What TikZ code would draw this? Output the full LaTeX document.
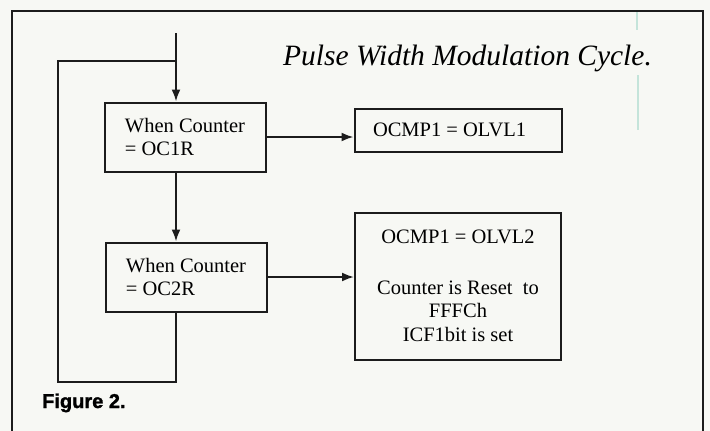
\documentclass[tikz,border=0pt]{standalone}
\usepackage{fontspec}
\setmainfont{Liberation Serif}
\newfontfamily\figfont[BoldFeatures={FakeBold=1.5}]{Liberation Sans}
\usetikzlibrary{positioning,arrows.meta}
\definecolor{paper}{RGB}{247,248,244}
\definecolor{ink}{RGB}{28,28,28}
\definecolor{scanline}{RGB}{196,228,218}
\tikzset{
	stepbox/.style={draw=ink, line width=2pt, inner sep=0pt, minimum width=161pt, minimum height=69pt, font=\fontsize{20.5}{23.5}\selectfont},
	outbox/.style={draw=ink, line width=2pt, inner sep=0pt, font=\fontsize{20.5}{23.5}\selectfont},
	flow/.style={draw=ink, line width=2pt, -{Latex[length=12pt,width=9pt]}},
	loop/.style={draw=ink, line width=2pt}
}

\begin{document}
\begin{tikzpicture}[x=1pt,y=-1pt]

\fill[paper] (0,0) rectangle (710,431);
\useasboundingbox (0,0) rectangle (710,431);

%----------FRAME-------------%
\draw[ink, line width=2pt] (12,431) -- (12,11) -- (703,11) -- (703,431);
\draw[scanline, line width=1.2pt] (637,12) -- (637,30);
\draw[scanline, line width=1.2pt] (638,75) -- (638,130);

%----------BOXES-------------%
\node[stepbox, align=left] (c1) at (185,137) {When Counter\\= OC1R};
\node[stepbox, align=left] (c2) at (186,277) {When Counter\\= OC2R};
\node[outbox, minimum width=207pt, minimum height=43pt, text width=170pt, align=flush left] (o1) at (458,130) {OCMP1 = OLVL1};
\node[outbox, minimum width=206pt, minimum height=147pt, align=center] (o2) at (458,286)
	{OCMP1 = OLVL2\\[27pt]Counter is Reset\ \ to\\FFFCh\\ICF1bit is set};

%----------TEXTS-------------%
\node[anchor=base west, font=\itshape\fontsize{29.5}{32}\selectfont, inner sep=0pt] (title) at (283,65) {Pulse Width Modulation Cycle.};
\node[anchor=base west, font=\figfont\bfseries\fontsize{20}{22}\selectfont, inner sep=0pt] (fig) at (42,408) {Figure 2.};

%----------LINKS-------------%
\coordinate (in) at (176,33);
\coordinate (join) at (176,61);
\coordinate (corner) at (58,382);
\draw[flow] (in) -- (in |- c1.north);
\draw[flow] (c1.south -| in) -- (c2.north -| in);
\draw[flow] (c1.east) -- (c1.east -| o1.west);
\draw[flow] (c2.east) -- (c2.east -| o2.west);
\draw[loop] (c2.south -| in) |- (corner) |- (join);

\end{tikzpicture}
\end{document}
